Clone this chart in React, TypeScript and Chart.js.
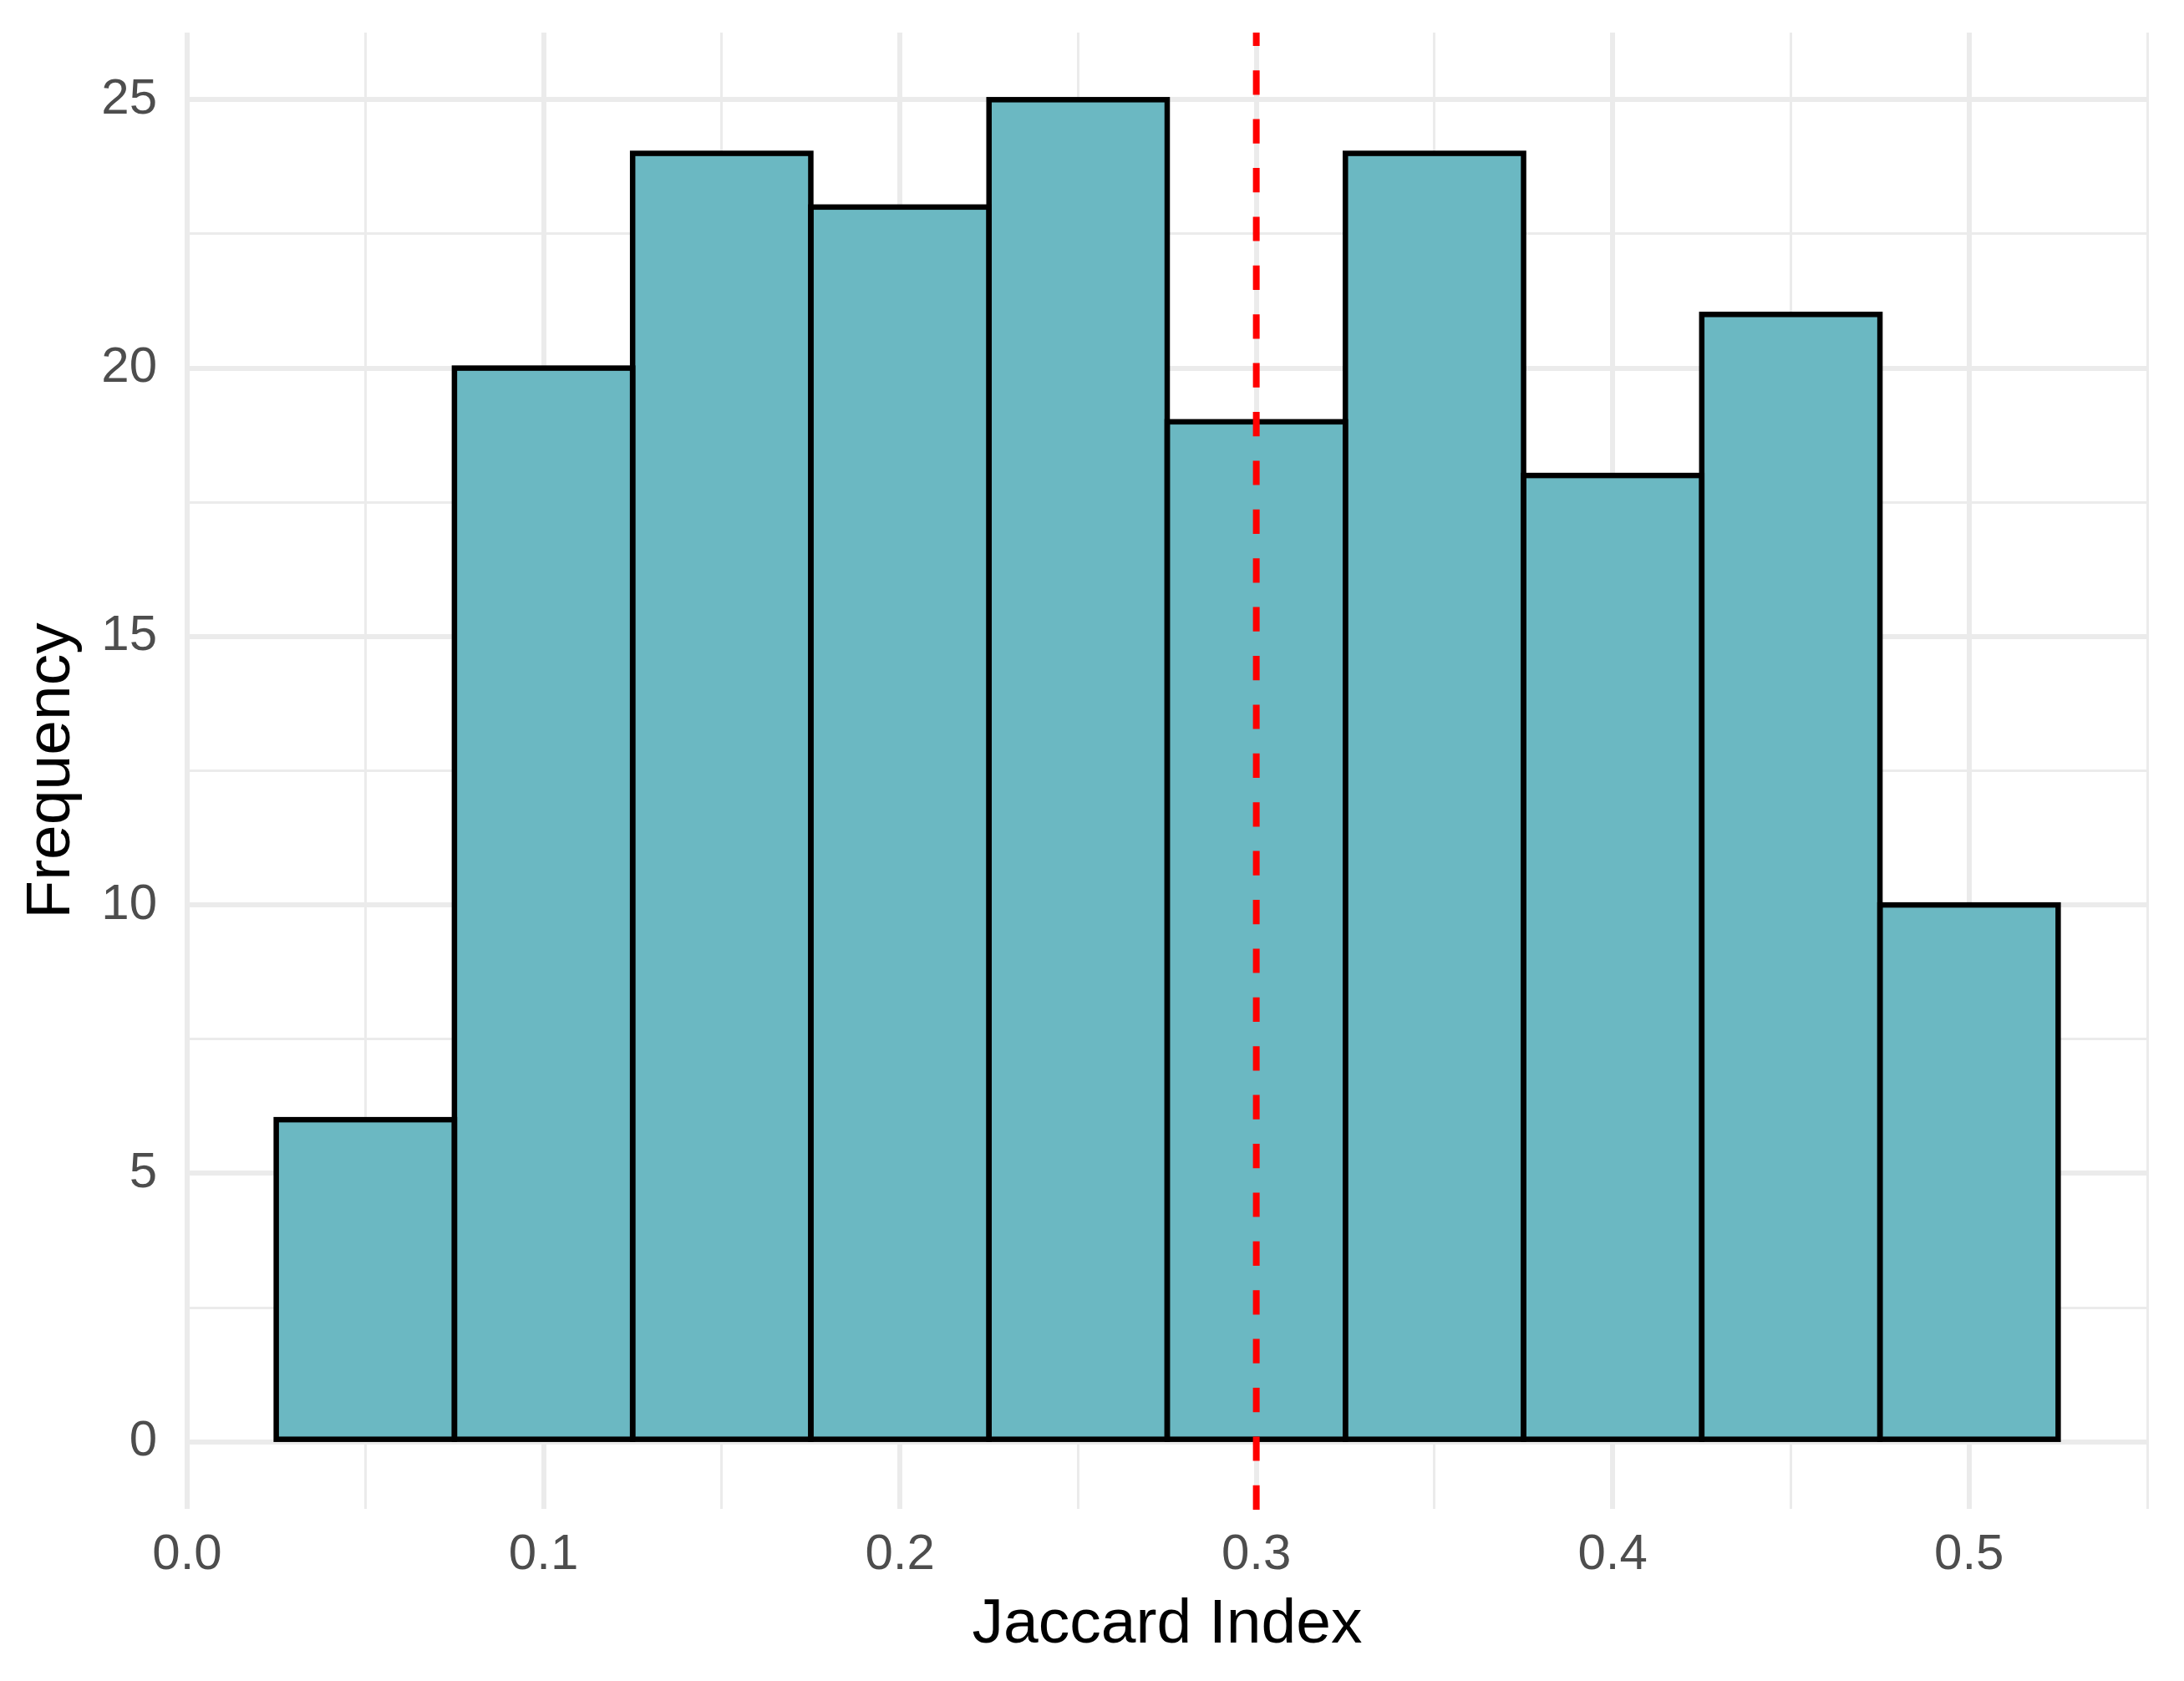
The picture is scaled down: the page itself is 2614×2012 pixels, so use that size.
import React, { useEffect, useRef } from "react";
import { Chart, registerables } from "chart.js";

Chart.register(...registerables);

// Histogram bins (centers) and counts
const binCenters = [0.05, 0.1, 0.15, 0.2, 0.25, 0.3, 0.35, 0.4, 0.45, 0.5];
const counts = [6, 20, 24, 23, 25, 19, 24, 18, 21, 10];

// Reference line (dashed red)
const refLineValue = 0.3;

// Axis ticks
const xMajorTicks = [0, 0.1, 0.2, 0.3, 0.4, 0.5];
const xMinorTicks = [0.05, 0.15, 0.25, 0.35, 0.45, 0.55];
const yMajorTicks = [0, 5, 10, 15, 20, 25];
const yMinorTicks = [2.5, 7.5, 12.5, 17.5, 22.5];

const xTitle = "Jaccard Index";
const yTitle = "Frequency";

const FONT = "'Liberation Sans', Arial, Helvetica, sans-serif";
const W = 2614;
const H = 2012;

const isIn = (list: number[], v: number) => list.some((t) => Math.abs(t - v) < 1e-9);

const overlayPlugin = {
  id: "histOverlay",
  afterDatasetsDraw(chart: any) {
    const ctx = chart.ctx;
    const meta = chart.getDatasetMeta(0);
    ctx.save();
    // bar outlines, centred on edges (like ggplot)
    ctx.strokeStyle = "#000000";
    ctx.lineWidth = 6.5;
    ctx.lineJoin = "miter";
    meta.data.forEach((el: any) => {
      const p = el.getProps(["x", "y", "base", "width"], true);
      ctx.strokeRect(p.x - p.width / 2, p.y, p.width, p.base - p.y);
    });
    // dashed vertical reference line
    const area = chart.chartArea;
    const xs = chart.scales.x.getPixelForValue(refLineValue);
    ctx.strokeStyle = "#FF0000";
    ctx.lineWidth = 8;
    ctx.lineCap = "butt";
    ctx.setLineDash([29.2, 29.2]);
    ctx.beginPath();
    ctx.moveTo(xs, area.bottom + 1);
    ctx.lineTo(xs, area.top);
    ctx.stroke();
    ctx.restore();
  },
};

export default function App() {
  const canvasRef = useRef<HTMLCanvasElement | null>(null);

  useEffect(() => {
    if (!canvasRef.current) return;
    const xTicksAll = [...xMajorTicks, ...xMinorTicks].sort((a, b) => a - b);
    const yTicksAll = [...yMajorTicks, ...yMinorTicks].sort((a, b) => a - b);

    const chart = new Chart(canvasRef.current, {
      type: "bar",
      data: {
        datasets: [
          {
            data: binCenters.map((c, i) => ({ x: c, y: counts[i] })),
            backgroundColor: "#6BB8C2",
            borderWidth: 0,
            barPercentage: 1,
            categoryPercentage: 1,
          } as any,
        ],
      },
      options: {
        responsive: false,
        animation: false,
        layout: { padding: { top: 39, right: 44, left: 0, bottom: 0 } },
        plugins: {
          legend: { display: false },
          tooltip: { enabled: false },
        },
        scales: {
          x: {
            type: "linear",
            min: 0,
            max: 0.55,
            offset: false,
            afterBuildTicks: (scale: any) => {
              scale.ticks = xTicksAll.map((v) => ({ value: v }));
            },
            afterFit: (scale: any) => {
              scale.height = 206;
              scale.paddingLeft = 0;
              scale.paddingRight = 0;
            },
            border: { display: false },
            grid: {
              offset: false,
              drawTicks: false,
              color: "#EBEBEB",
              lineWidth: (c: any) => (c.tick && isIn(xMajorTicks, c.tick.value) ? 6 : 3),
            },
            ticks: {
              autoSkip: false,
              maxRotation: 0,
              padding: 19,
              color: "#4D4D4D",
              font: { family: FONT, size: 60 },
              callback: (v: any) => (isIn(xMajorTicks, Number(v)) ? Number(v).toFixed(1) : ""),
            },
            title: {
              display: true,
              text: xTitle,
              color: "#000000",
              font: { family: FONT, size: 75 },
              padding: { top: 0, bottom: 22 },
            },
          },
          y: {
            type: "linear",
            min: -1.25,
            max: 26.25,
            afterBuildTicks: (scale: any) => {
              scale.ticks = yTicksAll.map((v) => ({ value: v }));
            },
            afterFit: (scale: any) => {
              scale.width = 224;
              scale.paddingTop = 0;
              scale.paddingBottom = 0;
            },
            border: { display: false },
            grid: {
              drawTicks: false,
              color: "#EBEBEB",
              lineWidth: (c: any) => (c.tick && isIn(yMajorTicks, c.tick.value) ? 6 : 3),
            },
            ticks: {
              autoSkip: false,
              padding: 36,
              color: "#4D4D4D",
              font: { family: FONT, size: 60 },
              callback: (v: any) => (isIn(yMajorTicks, Number(v)) ? String(Number(v)) : ""),
            },
            title: {
              display: true,
              text: yTitle,
              color: "#000000",
              font: { family: FONT, size: 75 },
              padding: { top: 17, bottom: 0 },
            },
          },
        },
      },
      plugins: [overlayPlugin],
    });
    return () => chart.destroy();
  }, []);

  return (
    <div style={{ position: "fixed", left: 0, top: 0, width: W, height: H, background: "#ffffff" }}>
      <canvas ref={canvasRef} width={W} height={H} style={{ display: "block", width: W, height: H }} />
    </div>
  );
}
